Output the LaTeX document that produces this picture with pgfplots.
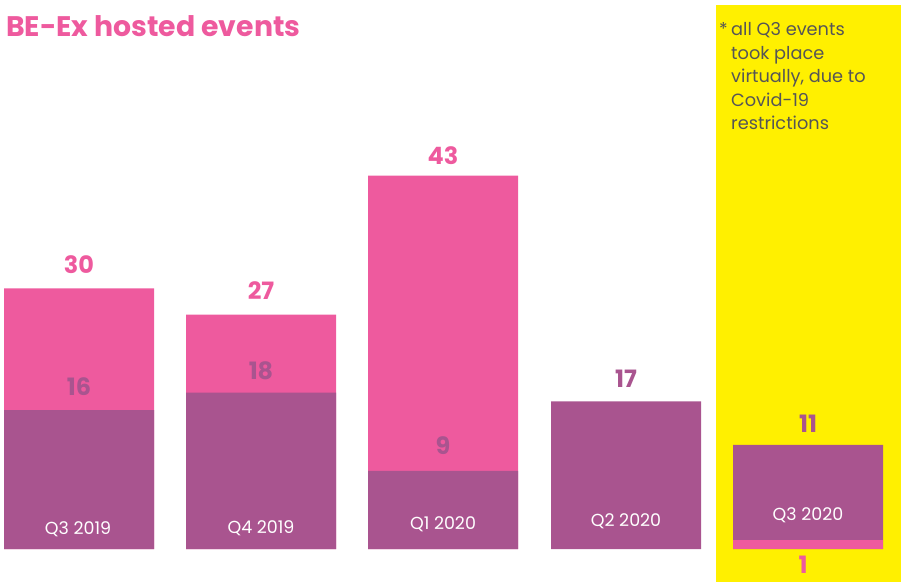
\documentclass[border=0pt]{standalone}
\usepackage{fontspec}
\setmainfont{Poppins}
\usepackage{pgfplots}
\pgfplotsset{compat=1.18}
\definecolor{bepink}{HTML}{EE5A9E}
\definecolor{bepurple}{HTML}{A9548F}
\definecolor{beyellow}{HTML}{FFF000}
\definecolor{notegray}{HTML}{555557}
\begin{document}
\begin{tikzpicture}
\useasboundingbox (0,0) rectangle (901bp,582bp);
\begin{scope}[x=1bp,y=-1bp,yshift=582bp]
\fill[beyellow] (716,5) rectangle (901,582);
\end{scope}
\begin{axis}[at={(0,0)}, anchor=south west, scale only axis,
  width=901bp, height=582bp, xmin=0, xmax=901, ymin=-3.78, ymax=63.2,
  axis lines=none, ybar, bar width=150, bar shift=0pt, clip=false]
\addplot[fill=bepink, draw=none] coordinates {(79,30) (261,27) (443,43)};
\addplot[fill=bepurple, draw=none] coordinates {(79,16) (261,18) (443,9) (626,17) (808,12)};
\addplot[fill=bepink, draw=none] coordinates {(808,1)};
\end{axis}
\begin{scope}[x=1bp,y=-1bp,yshift=582bp]
\node[anchor=base west, inner sep=0pt, font=\bfseries\fontsize{28.4}{30}\selectfont, text=bepink] at (6,37) {BE-Ex hosted events};
\begin{scope}[every node/.style={anchor=base west, inner sep=0pt, font=\fontsize{17.8}{20}\selectfont, text=notegray}]
\node at (719,36) {*};
\node at (731,36) {all Q3 events};
\node at (731,59.5) {took place};
\node at (731,83) {virtually, due to};
\node at (731,106.5) {Covid-19};
\node at (731,130) {restrictions};
\end{scope}
\begin{scope}[every node/.style={anchor=base, inner sep=0pt, font=\bfseries\fontsize{24}{26}\selectfont}]
\node[text=bepink] at (79,274) {30};
\node[text=bepurple] at (79,396) {16};
\node[text=bepink] at (261,300) {27};
\node[text=bepurple] at (261,380) {18};
\node[text=bepink] at (443,165) {43};
\node[text=bepurple] at (443,455) {9};
\node[text=bepurple] at (626,388) {17};
\node[text=bepurple] at (808,433) {11};
\node[text=bepink, text depth=0pt] at (803,574) {1};
\end{scope}
\begin{scope}[every node/.style={anchor=base, inner sep=0pt, font=\fontsize{17.5}{19}\selectfont, text=white}]
\node at (78,535) {Q3 2019};
\node at (261,534) {Q4 2019};
\node at (443,530) {Q1 2020};
\node at (626,527) {Q2 2020};
\node at (808,521) {Q3 2020};
\end{scope}
\end{scope}
\end{tikzpicture}
\end{document}
